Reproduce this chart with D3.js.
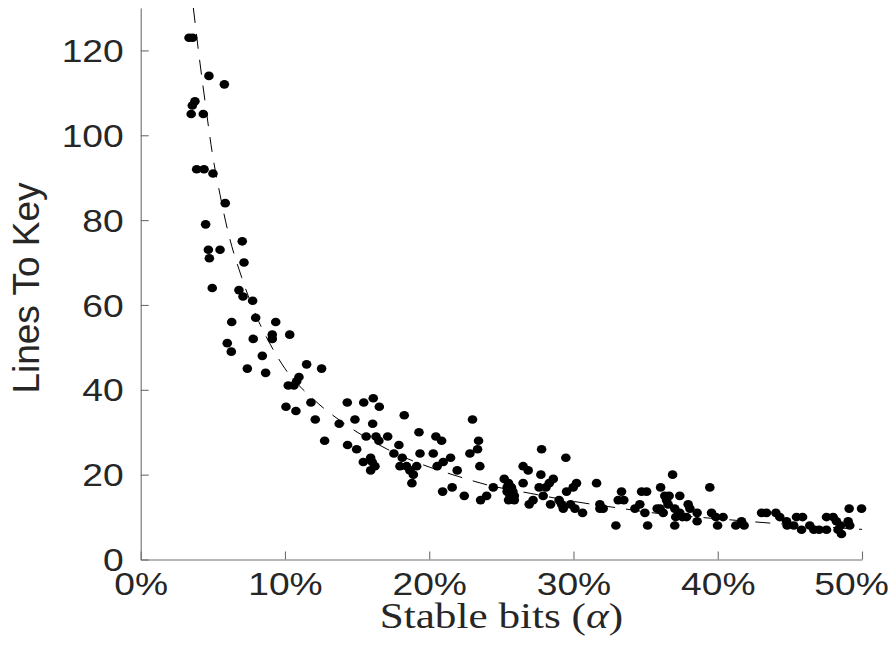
<!DOCTYPE html>
<html>
<head>
<script src="https://d3js.org/d3.v7.min.js"></script>
<style>
  body { margin: 0; background: #fff; }
</style>
</head>
<body>
<script>
// stable bits (percent) and lines needed to recover the key
var stableBits = [
  3.35, 3.6, 4.73, 5.8, 3.76, 3.58, 3.5, 4.34, 3.88, 4.39, 5.01, 5.86, 4.5, 7.04, 4.69, 5.5, 4.76, 7.16, 4.96, 6.81,
  7.09, 7.76, 6.31, 7.97, 9.36, 9.12, 9.12, 10.33, 6.0, 7.8, 6.28, 8.43, 7.39, 8.66, 11.5, 12.54, 10.97, 10.81, 10.23, 10.62,
  11.8, 10.07, 10.76, 12.1, 13.76, 14.32, 14.85, 12.75, 14.34, 14.97,
  15.46, 16.12, 16.54, 16.08, 18.27, 15.63, 16.31, 16.51, 17.12, 15.43, 15.94, 16.05, 16.24, 15.94, 17.9, 17.55, 18.13, 17.97, 18.43, 18.66,
  18.9, 18.8, 19.13, 19.29, 19.36, 20.28, 20.46, 20.86, 20.55, 20.97, 21.48, 21.94, 20.93, 21.59, 22.43, 23.0, 23.42, 23.35, 22.82, 23.51,
  24.44, 23.98, 23.56,
  25.2, 25.5, 25.4, 25.7, 25.8, 25.4, 25.6, 25.9, 25.5, 25.9, 26.51, 26.51, 26.86, 27.79, 29.47, 27.74, 28.6, 28.32, 28.09, 27.62,
  27.2, 26.93, 27.9, 28.41, 29.0, 29.18, 29.29, 29.52, 29.98, 30.21, 29.8, 30.1, 30.63, 31.6, 31.83, 31.83, 32.06, 32.94, 33.33, 33.1,
  33.49, 34.26, 34.6, 34.95, 34.72, 35.07, 35.14, 36.04, 35.8, 36.0, 36.22, 36.87, 36.33, 36.63, 36.45, 36.56, 37.37, 37.02, 37.37, 37.09,
  37.55, 37.02, 37.95, 38.07, 37.84, 38.57, 38.57, 39.45, 39.57, 39.87, 40.37, 39.99, 41.25, 41.65, 41.83, 43.04, 43.38, 44.03, 44.3, 44.77,
  44.81, 45.46, 45.88, 45.27, 45.81, 46.38, 46.66, 47.03, 47.54, 47.54, 48.0, 48.23, 48.51, 48.58, 49.04, 49.15, 49.11, 49.97, 48.34
];
var linesToKey = [
  123, 123, 114, 112, 108, 107, 105, 105, 92, 92, 91, 84, 79, 75, 73, 73, 71, 70, 64, 63.5,
  62, 61, 56, 57, 56, 53, 52, 53, 51, 52, 49, 48, 45, 44, 46, 45, 43, 42, 41, 41,
  37, 36, 35, 33, 32, 37, 33, 28, 27, 26,
  37, 38, 36, 32, 34, 29, 29, 28, 29, 23, 24, 23, 22, 21, 27, 25, 24, 22, 22, 21,
  20, 18, 22, 30, 25, 25, 29, 28, 22, 23, 24, 21, 16, 17, 15, 33, 28, 26, 25, 22,
  17, 15, 14,
  19, 18, 17, 17, 16, 16, 15, 15, 14, 14, 18, 22, 21, 26, 24, 20, 19, 18, 17, 17,
  14, 13, 15, 13, 14, 13, 12, 16, 17, 18, 13, 12, 11, 18, 13, 12, 12, 8, 16, 14,
  14, 12, 13, 11, 16, 16, 8, 17, 12, 12, 11, 20, 15, 15, 14, 13, 15, 12, 11, 10,
  10, 8, 13, 12, 10, 11, 9, 17, 11, 10, 10, 8, 8, 9, 8, 11, 11, 11, 10, 9,
  8, 10, 10, 8, 7, 8, 7, 7, 7, 10, 10, 9, 8, 6, 9, 8, 12, 12, 7
];

// dashed fit curve
var fitX = [3.65, 4, 4.5, 5, 5.5, 6, 7, 8, 9, 10, 12, 14, 16, 18, 20, 22, 24, 27, 30, 33, 36, 40, 43, 46, 50];
var fitY = [130, 120, 107, 95, 86, 78, 66.5, 57.5, 50.6, 45, 37.7, 32.3, 28, 24.5, 21.8, 19.6, 17.6, 15.6, 13.7, 12.2, 10.8, 9.6, 8.75, 8.0, 7.1];

var xTicks = [0, 10, 20, 30, 40, 50];
var yTicks = [0, 20, 40, 60, 80, 100, 120];

var width = 895, height = 661;
var stretch = 1.2;   // the original figure is a bit wider than tall
var svg = d3.select("body").append("svg")
    .attr("width", width)
    .attr("height", height)
    .style("font-family", "'Liberation Sans', Arial, sans-serif");

var x = d3.scaleLinear().domain([0, 50]).range([140.7, 862]);
var y = d3.scaleLinear().domain([0, 130]).range([559.5, 8]);

svg.append("clipPath").attr("id", "plot")
  .append("rect")
    .attr("x", x(0)).attr("y", y(130))
    .attr("width", x(50) - x(0)).attr("height", y(0) - y(130));

// axes
var xAxis = svg.append("g")
    .attr("transform", "translate(0," + y(0) + ")")
    .call(d3.axisBottom(x).tickValues(xTicks).tickSizeInner(-8).tickSizeOuter(0).tickPadding(9)
      .tickFormat(function (d) { return d + "%"; }));
var yAxis = svg.append("g")
    .attr("transform", "translate(" + x(0) + ",0)")
    .call(d3.axisLeft(y).tickValues(yTicks).tickSizeInner(-8).tickSizeOuter(0));

[xAxis, yAxis].forEach(function (g) {
  g.select(".domain").attr("stroke", "#6e6e6e").attr("stroke-width", 1.1);
  g.selectAll(".tick line").attr("stroke", "#6e6e6e").attr("stroke-width", 1.1);
  g.selectAll(".tick text")
    .attr("fill", "#262626")
    .style("font-size", "31px")
    .style("font-family", "'Liberation Sans', Arial, sans-serif");
});
xAxis.selectAll(".tick text")
    .attr("dy", "0.85em")
    .attr("x", function (d) { return d === 50 ? -11 / stretch : 0; })
    .attr("transform", "scale(" + stretch + ",1)");
yAxis.selectAll(".tick text")
    .attr("x", -17 / stretch)
    .attr("dy", "0.36em")
    .attr("transform", "scale(" + stretch + ",1)");

// axis titles
svg.append("text")
    .attr("transform", "translate(" + (x(0) + x(50)) / 2 + ",628) scale(" + stretch + ",1)")
    .attr("text-anchor", "middle")
    .attr("fill", "#262626")
    .style("font-family", "'Liberation Serif', 'DejaVu Serif', serif")
    .style("font-size", "36px")
    .html("Stable bits (<tspan font-style='italic'>&#945;</tspan>)");

svg.append("text")
    .attr("transform", "translate(38.5," + y(64) + ") rotate(-90)")
    .attr("text-anchor", "middle")
    .attr("fill", "#262626")
    .style("font-size", "37px")
    .text("Lines To Key");

// fit curve
var fitPts = fitX.map(function (v, i) { return [v, fitY[i]]; });
svg.append("path")
    .datum(fitPts)
    .attr("clip-path", "url(#plot)")
    .attr("fill", "none")
    .attr("stroke", "#000")
    .attr("stroke-width", 1)
    .attr("stroke-dasharray", "15,11")
    .attr("d", d3.line()
      .x(function (d) { return x(d[0]); })
      .y(function (d) { return y(d[1]); })
      .curve(d3.curveMonotoneX));

// points
svg.append("g")
  .selectAll("ellipse")
  .data(stableBits)
  .enter()
  .append("ellipse")
    .attr("cx", function (d) { return x(d); })
    .attr("cy", function (d, i) { return y(linesToKey[i]); })
    .attr("rx", 4.8)
    .attr("ry", 4.3)
    .attr("fill", "#000");
</script>
</body>
</html>
